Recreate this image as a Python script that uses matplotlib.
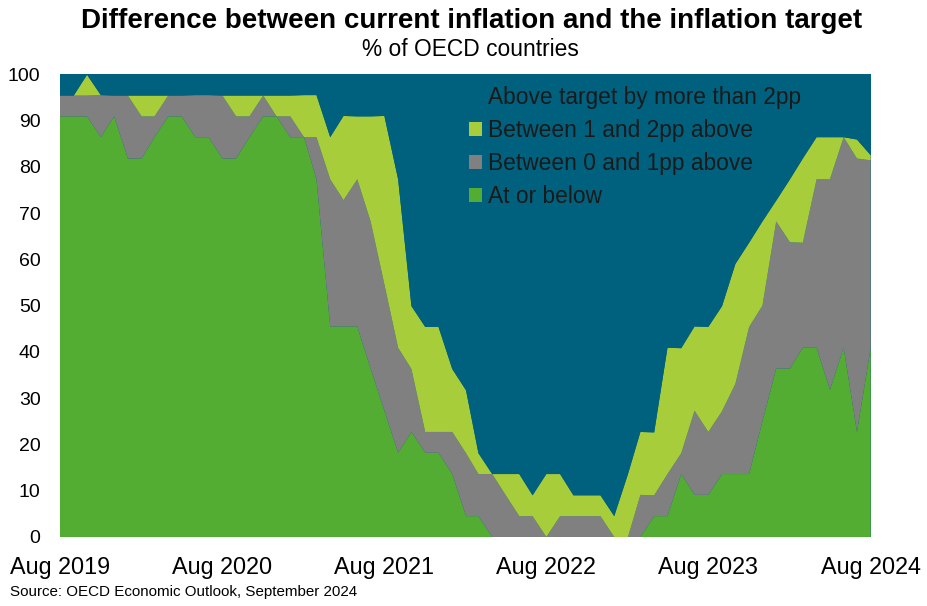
import pandas as pd
import matplotlib.pyplot as plt

plt.rcParams['font.family'] = ['Liberation Sans', 'DejaVu Sans']

# monthly, Aug 2019 - Aug 2024, % of OECD countries in each band
months = pd.date_range('2019-08-01', periods=61, freq='MS')

at_or_below = [90.9, 90.9, 90.9, 86.4, 90.9, 81.8, 81.8, 86.4, 90.9, 90.9,
               86.4, 86.4, 81.8, 81.8, 86.4, 90.9, 90.9, 86.4, 86.4, 77.3,
               45.5, 45.5, 45.5, 36.4, 27.3, 18.2, 22.7, 18.2, 18.2, 13.6,
               4.5, 4.5, 0, 0, 0, 0, 0, 0, 0, 0,
               0, 0, 0, 0, 4.5, 4.5, 13.6, 9.1, 9.1, 13.6,
               13.6, 13.6, 25.0, 36.4, 36.4, 40.9, 40.9, 31.8, 40.9, 22.7,
               40.9]
above_0_1 = [4.5, 4.5, 4.5, 9.1, 4.5, 13.6, 9.1, 4.5, 4.5, 4.5,
             9.1, 9.1, 13.6, 9.1, 4.5, 4.5, 0, 4.5, 0, 9.1,
             31.8, 27.3, 31.8, 31.8, 27.3, 22.7, 13.6, 4.5, 4.5, 9.1,
             13.6, 9.1, 13.6, 9.1, 4.5, 4.5, 0, 4.5, 4.5, 4.5,
             4.5, 0, 0, 9.1, 4.5, 9.1, 4.5, 18.2, 13.6, 13.6,
             19.5, 31.8, 25.0, 31.8, 27.3, 22.7, 36.4, 45.5, 45.5, 59.1,
             40.5]
above_1_2 = [0, 0, 4.5, 0, 0, 0, 4.5, 4.5, 0, 0,
             0, 0, 0, 4.5, 4.5, 0, 4.5, 4.5, 9.1, 9.1,
             9.1, 18.2, 13.6, 22.7, 36.4, 36.4, 13.6, 22.7, 22.7, 13.6,
             13.6, 4.5, 0, 4.5, 9.1, 4.5, 13.6, 9.1, 4.5, 4.5,
             4.5, 4.5, 13.6, 13.6, 13.6, 27.3, 22.7, 18.2, 22.7, 22.7,
             25.9, 18.2, 18.2, 4.5, 13.6, 18.2, 9.1, 9.1, 0, 4.1,
             1.1]
above_2 = [4.5, 4.5, 0, 4.5, 4.5, 4.5, 4.5, 4.5, 4.5, 4.5,
           4.5, 4.5, 4.5, 4.5, 4.5, 4.5, 4.5, 4.5, 4.5, 4.5,
           13.6, 9.1, 9.1, 9.1, 9.1, 22.7, 50.0, 54.5, 54.5, 63.6,
           68.2, 81.8, 86.4, 86.4, 86.4, 90.9, 86.4, 86.4, 90.9, 90.9,
           90.9, 95.5, 86.4, 77.3, 77.3, 59.1, 59.1, 54.5, 54.5, 50.0,
           40.9, 36.4, 31.8, 27.3, 22.7, 18.2, 13.6, 13.6, 13.6, 14.1,
           17.5]

labels = ['At or below', 'Between 0 and 1pp above',
          'Between 1 and 2pp above', 'Above target by more than 2pp']
colors = ['#53ad32', '#808080', '#a8cd3a', '#00617e']

fig = plt.figure(figsize=(9.27, 6.06), dpi=100)
ax = fig.add_axes([0.0647, 0.1139, 0.8746, 0.7635])
ax.set_facecolor(colors[3])

ax.stackplot(months, at_or_below, above_0_1, above_1_2, above_2,
             colors=colors, labels=labels, linewidth=0)

ax.set_xlim(months[0], months[-1])
ax.set_ylim(0, 100)
ax.set_yticks(range(0, 101, 10))
xt = [d for d in months if d.month == 8]
ax.set_xticks(xt)
ax.set_xticklabels([d.strftime('Aug %Y') for d in xt])
ax.tick_params(axis='y', length=0, pad=14, labelsize=14)
ax.tick_params(axis='x', length=0, pad=14, labelsize=16.8)
for s in ax.spines.values():
    s.set_visible(False)

h, l = ax.get_legend_handles_labels()
ax.legend(h[::-1], l[::-1], loc='upper left', bbox_to_anchor=(0.505, 0.975),
          frameon=False, fontsize=16.4, handlelength=0.55, handleheight=0.55,
          handletextpad=0.25, labelspacing=0.44, borderpad=0, borderaxespad=0,
          labelcolor='#1a1a1a')

fig.text(0.509, 0.965, 'Difference between current inflation and the inflation target',
         ha='center', va='center', fontsize=20, fontweight='bold')
fig.text(0.507, 0.919, '% of OECD countries', ha='center', va='center', fontsize=16.4)
fig.text(0.011, 0.023, 'Source: OECD Economic Outlook, September 2024',
         ha='left', va='center', fontsize=10.9)

plt.savefig('out.png', dpi=100)
